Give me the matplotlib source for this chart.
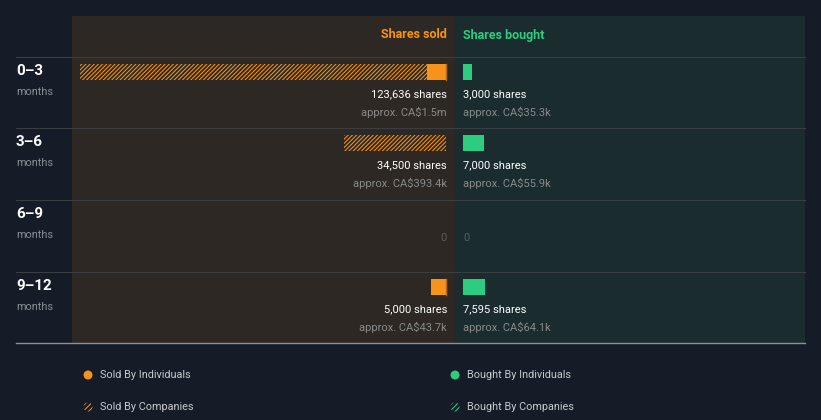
import matplotlib.pyplot as plt
from matplotlib.patches import Rectangle, Circle

plt.rcParams['font.family'] = ['Roboto', 'DejaVu Sans']
plt.rcParams['hatch.linewidth'] = 0.75

# insider trades per period
periods = ['0–3', '3–6', '6–9', '9–12']
sold_individuals = [6436, 0, 0, 5000]
sold_companies = [117200, 34500, 0, 0]
bought_individuals = [3000, 7000, 0, 7595]
bought_companies = [0, 0, 0, 0]
sold_value = ['CA$1.5m', 'CA$393.4k', None, 'CA$43.7k']
bought_value = ['CA$35.3k', 'CA$55.9k', None, 'CA$64.1k']

bg = '#151b27'
sold_bg = '#2d2823'
bought_bg = '#1a2c2e'
orange = '#f7931a'
green = '#2ecc80'

fig = plt.figure(figsize=(8.21, 4.2), dpi=100, facecolor=bg)
ax = fig.add_axes([0, 0, 1, 1])
ax.set_xlim(0, 821)
ax.set_ylim(420, 0)
ax.axis('off')

# panels
ax.add_patch(Rectangle((72, 16), 383, 327, color=sold_bg, lw=0))
ax.add_patch(Rectangle((455, 16), 350, 327, color=bought_bg, lw=0))

ax.text(447, 35, 'Shares sold', color=orange, fontsize=9, fontweight='bold', ha='right', va='center')
ax.text(463, 35, 'Shares bought', color=green, fontsize=9, fontweight='bold', ha='left', va='center')

row_top = [57, 128, 200, 272]
sold_x = 446
buy_x = 463
scale = 366 / 123636  # px per share

for y in row_top:
    ax.plot([16, 805], [y, y], color='#3a3e42', lw=0.8)
ax.plot([16, 805], [343, 343], color='#8a9199', lw=1)

for i, p in enumerate(periods):
    top = row_top[i]
    ax.text(16, top + 14, p, color='white', fontsize=11, fontweight='bold', va='center')
    ax.text(16, top + 35, 'months', color='#8a8f96', fontsize=7.8, va='center')

    si = sold_individuals[i] * scale
    sc = sold_companies[i] * scale
    bi = bought_individuals[i] * scale
    bc = bought_companies[i] * scale
    bar_y = top + 15
    if si > 0:
        ax.barh(bar_y, si, left=sold_x - si, height=16, color=orange, lw=0)
        ax.plot([sold_x, sold_x], [bar_y - 8, bar_y + 8], color='#b86a10', lw=1)
    if sc > 0:
        ax.barh(bar_y, sc, left=sold_x - si - sc, height=16, facecolor='none',
                edgecolor=orange, hatch='////////', lw=0)
    if bi > 0:
        ax.barh(bar_y, bi, left=buy_x, height=16, color=green, lw=0)
    if bc > 0:
        ax.barh(bar_y, bc, left=buy_x + bi, height=16, facecolor='none',
                edgecolor=green, hatch='////////', lw=0)

    sold_total = sold_individuals[i] + sold_companies[i]
    bought_total = bought_individuals[i] + bought_companies[i]
    if sold_total > 0:
        ax.text(447, top + 37, f'{sold_total:,} shares', color='white', fontsize=8,
                ha='right', va='center')
        ax.text(447, top + 55, f'approx. {sold_value[i]}', color='#8a8a8a', fontsize=8, ha='right', va='center')
    else:
        ax.text(447, top + 38, '0', color='#5c5c5c', fontsize=8, ha='right', va='center')
    if bought_total > 0:
        ax.text(463, top + 37, f'{bought_total:,} shares', color='white', fontsize=8,
                ha='left', va='center')
        ax.text(463, top + 55, f'approx. {bought_value[i]}', color='#8a8a8a', fontsize=8, ha='left', va='center')
    else:
        ax.text(463, top + 38, '0', color='#5c5c5c', fontsize=8, ha='left', va='center')

# legend
leg = [(88, 375, orange, False, 'Sold By Individuals'),
       (88, 407, orange, True, 'Sold By Companies'),
       (455, 375, green, False, 'Bought By Individuals'),
       (455, 407, green, True, 'Bought By Companies')]
for x, y, c, hatched, label in leg:
    if hatched:
        ax.add_patch(Circle((x, y), 4.5, facecolor='none', edgecolor=c, hatch='//////', lw=0))
    else:
        ax.add_patch(Circle((x, y), 4.5, color=c, lw=0))
    ax.text(x + 12, y, label, color='#c8cacd', fontsize=7.8, va='center')

fig.savefig('out.png', dpi=100, facecolor=bg)
